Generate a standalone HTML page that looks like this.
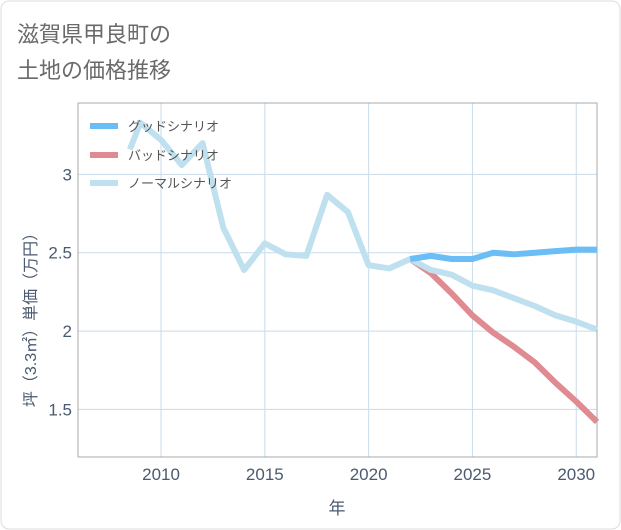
<!DOCTYPE html>
<html><head><meta charset="utf-8"><style>
body{margin:0;background:#fff;}
svg{display:block;font-family:"Liberation Sans","Noto Sans CJK JP",sans-serif;}
</style></head><body>
<svg width="621" height="530">
<rect x="1" y="1" width="619" height="528" rx="8" fill="#fff" stroke="#ddd"/>
<text x="17" y="42" font-size="22" fill="#6a6a6a">滋賀県甲良町の</text>
<text x="17" y="78" font-size="22" fill="#6a6a6a">土地の価格推移</text>
<g id="grid"></g>
<rect x="78" y="103" width="519" height="354" fill="none" stroke="#aaa"/>
<g id="series"></g>
<g id="ticks"></g>
<text x="337" y="514" font-size="17" fill="#4a5a70" text-anchor="middle">年</text>
<text transform="translate(36,316) rotate(-90)" font-size="16" fill="#4a5a70" text-anchor="middle">坪（3.3㎡）単価（万円）</text>
<g>
<line x1="90" y1="126" x2="118" y2="126" stroke="#6bbdf5" stroke-width="6"/>
<text x="128" y="131" font-size="13" fill="#555">グッドシナリオ</text>
<line x1="90" y1="155" x2="118" y2="155" stroke="#e08a92" stroke-width="6"/>
<text x="128" y="160" font-size="13" fill="#555">バッドシナリオ</text>
<line x1="90" y1="183" x2="118" y2="183" stroke="#bfe0ee" stroke-width="6"/>
<text x="128" y="188" font-size="13" fill="#555">ノーマルシナリオ</text>
</g>
</svg>
<script>
const xTicks=[2010,2015,2020,2025,2030];
const yTicks=[1.5,2,2.5,3];
const yTickLabels=["1.5","2","2.5","3"];
const normalYears=[2008.5,2009,2010,2011,2012,2013,2014,2015,2016,2017,2018,2019,2020,2021,2022,2023,2024,2025,2026,2027,2028,2029,2030,2031];
const normalValues=[3.16,3.33,3.22,3.06,3.2,2.66,2.39,2.56,2.49,2.48,2.87,2.76,2.42,2.40,2.46,2.39,2.36,2.29,2.26,2.21,2.16,2.10,2.06,2.01];
const scenarioYears=[2022,2023,2024,2025,2026,2027,2028,2029,2030,2031];
const goodValues=[2.46,2.48,2.46,2.46,2.50,2.49,2.50,2.51,2.52,2.52];
const badValues=[2.46,2.37,2.24,2.10,1.99,1.90,1.80,1.67,1.55,1.42];
const NS="http://www.w3.org/2000/svg";
const X0=78,X1=597,Y0=103,Y1=457,xmin=2006,xmax=2031,ymin=1.196,ymax=3.456;
const xs=v=>X0+(v-xmin)/(xmax-xmin)*(X1-X0);
const ys=v=>Y1-(v-ymin)/(ymax-ymin)*(Y1-Y0);
const grid=document.getElementById('grid'),ticks=document.getElementById('ticks'),ser=document.getElementById('series');
function mk(t,a,p){const e=document.createElementNS(NS,t);for(const k in a)e.setAttribute(k,a[k]);p.appendChild(e);return e;}
xTicks.forEach(t=>{
const l=mk('line',{x1:xs(t),x2:xs(t),y1:Y0,y2:Y1,stroke:'#c8dcea'},grid);


const tx=mk('text',{x:xs(t),y:480,'font-size':17,fill:'#4a5a70','text-anchor':'middle'},ticks);
tx.textContent=t;


});
yTicks.forEach((t,i)=>{
const l=mk('line',{x1:X0,x2:X1,y1:ys(t),y2:ys(t),stroke:'#c8dcea'},grid);


const tx=mk('text',{x:72,y:ys(t)+6,'font-size':17,fill:'#4a5a70','text-anchor':'end'},ticks);
tx.textContent=yTickLabels[i];


});
function line(xv,yv,c,name){
const p=mk('polyline',{points:xv.map((x,i)=>xs(x)+','+ys(yv[i])).join(' '),fill:'none',stroke:c,'stroke-width':6,'stroke-linejoin':'round'},ser);


}
line(scenarioYears,badValues,'#e08a92','bad-scenario-line');
line(normalYears,normalValues,'#bfe0ee','normal-scenario-line');
line(scenarioYears,goodValues,'#6bbdf5','good-scenario-line');
</script>
</body></html>
